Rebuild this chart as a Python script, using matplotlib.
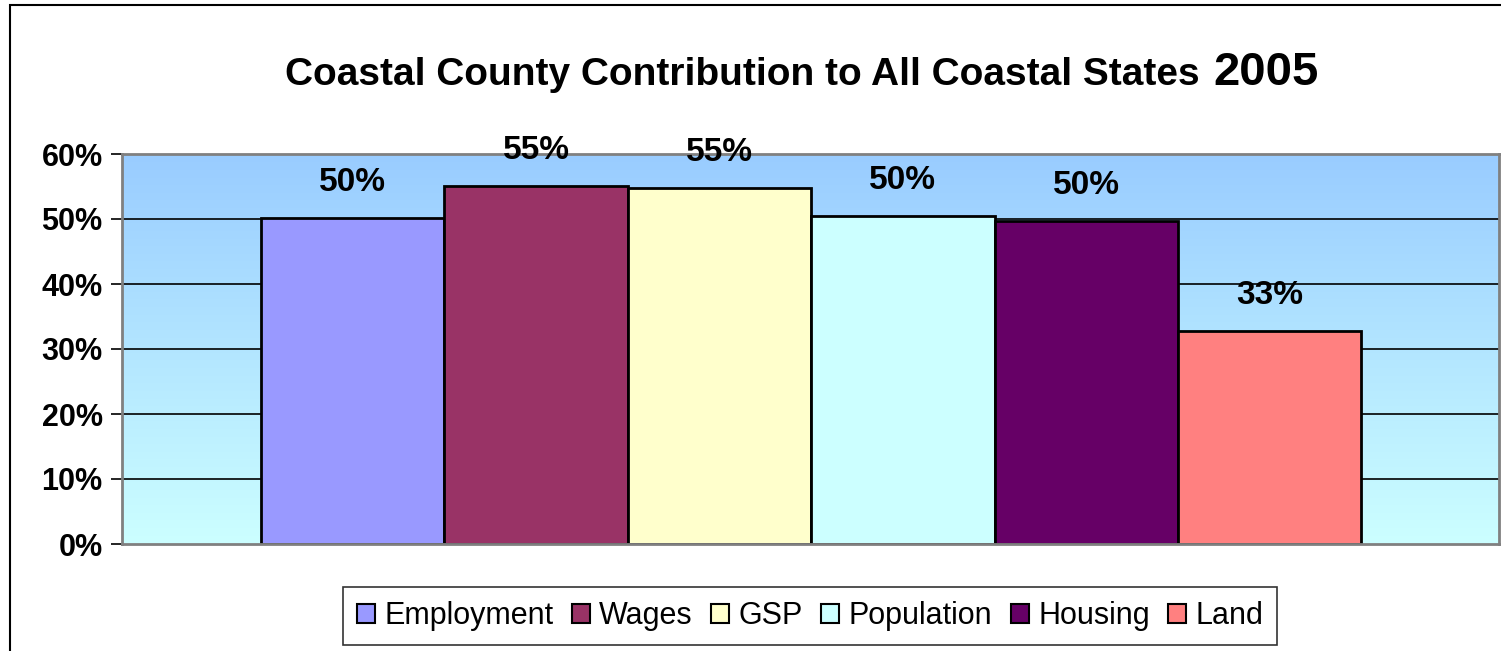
import numpy as np
import matplotlib
matplotlib.use('Agg')
import matplotlib.pyplot as plt
from matplotlib.patches import Rectangle
from matplotlib.colors import LinearSegmentedColormap

categories = ['Employment', 'Wages', 'GSP', 'Population', 'Housing', 'Land']
values = [50.2, 55.1, 54.8, 50.5, 49.7, 32.7]
colors = ['#9999FF', '#993366', '#FFFFCC', '#CCFFFF', '#660066', '#FF8080']
yticks = [0, 10, 20, 30, 40, 50, 60]

plt.rcParams['font.family'] = ['Liberation Sans', 'DejaVu Sans']

fig = plt.figure(figsize=(15.01, 6.51), dpi=100)
fig.patch.set_facecolor('white')
ax = fig.add_axes([122 / 1501, 1 - 544 / 651, (1499 - 122) / 1501, (544 - 154) / 651])

# gradient background of the plot area
grad = LinearSegmentedColormap.from_list('bg', ['#CCFFFF', '#99CCFF'])
ax.imshow(np.linspace(0, 1, 256).reshape(-1, 1), cmap=grad, origin='lower',
          extent=[-1.257, 6.25, 0, 60], aspect='auto', zorder=0)

for y in yticks[1:-1]:
    ax.axhline(y, color='black', linewidth=1.2, zorder=1)

x = np.arange(len(categories))
bars = ax.bar(x, values, width=1.0, color=colors, edgecolor='black',
              linewidth=2, zorder=2, label=categories)
for b, v in zip(bars, values):
    ax.annotate(f'{v:.0f}%', xy=(b.get_x() + b.get_width() / 2, v),
                xytext=(0, 20), textcoords='offset pixels', ha='center',
                va='bottom', fontsize=24, fontweight='bold', zorder=3)

ax.set_xlim(-1.257, 6.25)
ax.set_ylim(0, 60)
ax.set_yticks(yticks)
ax.set_yticklabels([f'{t}%' for t in yticks], fontsize=22, fontweight='bold')
ax.set_xticks([])
ax.tick_params(axis='y', length=8, width=1.2, color='black', direction='out', pad=6)
for s in ax.spines.values():
    s.set_color('#808080')
    s.set_linewidth(2)

handles = [Rectangle((0, 0), 1, 1, facecolor=c, edgecolor='black', linewidth=1.5)
           for c in colors]
leg = fig.legend(handles, categories, loc='center', ncol=6,
                 bbox_to_anchor=(810 / 1501, 1 - 616 / 651),
                 frameon=True, fancybox=False, edgecolor='black',
                 prop={'size': 22},
                 handlelength=0.6, handleheight=0.6, handletextpad=0.3,
                 columnspacing=0.6, borderpad=0.45, borderaxespad=0)
leg.get_frame().set_linewidth(1.2)

fig.text(1200 / 1501, 1 - 85 / 651, 'Coastal County Contribution to All Coastal States',
         ha='right', va='baseline', fontsize=28, fontweight='bold')
fig.text(1213 / 1501, 1 - 85 / 651, '2005', ha='left', va='baseline',
         fontsize=34, fontweight='bold')

fig.add_artist(Rectangle((10 / 1501, -0.05), 1.5, 1 - 5 / 651 + 0.05,
                         transform=fig.transFigure, fill=False,
                         edgecolor='black', linewidth=1.5))

fig.savefig('out.png', dpi=100)
